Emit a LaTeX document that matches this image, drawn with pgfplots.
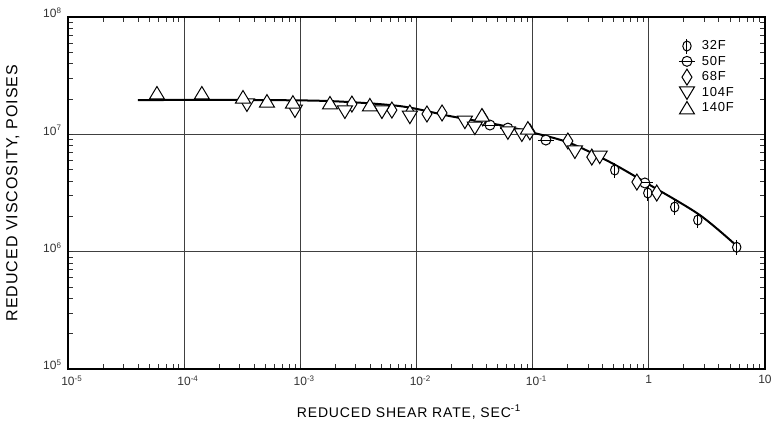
\documentclass[border=0pt]{standalone}
\usepackage{fontspec}
\setmainfont{Liberation Sans}
\newfontfamily\labfont[LetterSpace=6]{Liberation Sans}
\usepackage{pgfplots}
\pgfplotsset{compat=1.18}

\pgfdeclareplotmark{phi}{%
 \pgfpathellipse{\pgfpointorigin}{\pgfqpoint{4.2pt}{0pt}}{\pgfqpoint{0pt}{5pt}}\pgfusepathqfillstroke
 \pgfpathmoveto{\pgfqpoint{0pt}{-7.5pt}}\pgfpathlineto{\pgfqpoint{0pt}{7.5pt}}\pgfusepathqstroke}
\pgfdeclareplotmark{theta}{%
 \pgfpathcircle{\pgfpointorigin}{5pt}\pgfusepathqfillstroke
 \pgfpathmoveto{\pgfqpoint{-8pt}{0pt}}\pgfpathlineto{\pgfqpoint{8pt}{0pt}}\pgfusepathqstroke}
\pgfdeclareplotmark{dia}{%
 \pgfpathmoveto{\pgfqpoint{0pt}{8pt}}\pgfpathlineto{\pgfqpoint{5pt}{0pt}}\pgfpathlineto{\pgfqpoint{0pt}{-8pt}}\pgfpathlineto{\pgfqpoint{-5pt}{0pt}}\pgfpathclose\pgfusepathqfillstroke}
\pgfdeclareplotmark{tup}{%
 \pgfpathmoveto{\pgfqpoint{0pt}{6.5pt}}\pgfpathlineto{\pgfqpoint{7.5pt}{-6pt}}\pgfpathlineto{\pgfqpoint{-7.5pt}{-6pt}}\pgfpathclose\pgfusepathqfillstroke}
\pgfdeclareplotmark{tdown}{%
 \pgfpathmoveto{\pgfqpoint{0pt}{-6.5pt}}\pgfpathlineto{\pgfqpoint{7.5pt}{6pt}}\pgfpathlineto{\pgfqpoint{-7.5pt}{6pt}}\pgfpathclose\pgfusepathqfillstroke}

\begin{document}
\begin{tikzpicture}
\useasboundingbox (-68pt,-56pt) rectangle (704pt,369pt);
\begin{loglogaxis}[
  scale only axis,
  width=697pt, height=352pt,
  xmin=1e-5, xmax=10, ymin=1e5, ymax=1e8,
  xtick={1e-5,1e-4,1e-3,1e-2,1e-1,1,10},
  xticklabels={10\rlap{\textsuperscript{-5}},10\rlap{\textsuperscript{-4}},10\rlap{\textsuperscript{-3}},10\rlap{\textsuperscript{-2}},10\rlap{\textsuperscript{-1}},1,10},
  ytick={1e5,1e6,1e7,1e8},
  yticklabels={10\textsuperscript{5},10\textsuperscript{6},10\textsuperscript{7},10\textsuperscript{8}},
  tick label style={font=\fontsize{12}{14}\selectfont, black!80},
  xticklabel style={yshift=-3pt},
  yticklabel style={yshift=4pt, xshift=-3pt},
  major tick length=0pt,
  minor tick length=5pt,
  every minor tick/.style={black!80, line width=0.8pt},
  grid=major,
  major grid style={black!75, line width=0.9pt},
  axis line style={line width=1.6pt},
  xlabel={REDUCED SHEAR RATE, SEC\textsuperscript{-1}},
  ylabel={REDUCED VISCOSITY, POISES},
  xlabel style={font=\labfont\fontsize{14}{16}\selectfont, at={(axis description cs:0.489,0)}, yshift=-43pt, anchor=center},
  ylabel style={font=\labfont\fontsize{16}{18}\selectfont, at={(axis description cs:-0.079,0.5)}, anchor=center},
  legend style={draw=none, fill=none, at={(0.872,0.945)}, anchor=north west,
     font=\labfont\fontsize{13}{13}\selectfont, row sep=0.5pt,
     /tikz/every odd column/.append style={column sep=5pt}},
  legend cell align=left,
  every axis plot/.append style={line width=1pt},
]
% fitted curve
\addplot[black, line width=2pt, smooth, forget plot] coordinates {
 (4.0e-5,1.96e7) (3.68e-4,1.96e7) (1.80e-3,1.92e7) (7.2e-3,1.74e7)
 (1.94e-2,1.43e7) (5.22e-2,1.20e7) (0.102,1.03e7) (0.209,8.43e6)
 (0.461,5.81e6) (1.02,3.70e6) (2.75,2.05e6) (5.71,1.12e6)};
% 32F
\addplot[only marks, mark=phi, draw=black, fill=white] coordinates {
 (0.509,4.96e6) (0.98,3.16e6) (1.67,2.40e6) (2.64,1.86e6) (5.71,1.09e6)};
\addlegendentry{32F}
% 50F
\addplot[only marks, mark=theta, draw=black, fill=white] coordinates {
 (4.29e-2,1.20e7) (6.12e-2,1.13e7) (0.130,8.94e6) (0.925,3.85e6)};
\addlegendentry{50F}
% 68F
\addplot[only marks, mark=dia, draw=black, fill=white] coordinates {
 (2.78e-3,1.81e7) (6.14e-3,1.61e7) (8.77e-3,1.52e7) (1.23e-2,1.49e7)
 (1.66e-2,1.52e7) (3.72e-2,1.38e7) (9.46e-2,1.05e7) (0.201,8.77e6)
 (0.323,6.40e6) (0.789,3.92e6) (1.17,3.16e6)};
\addlegendentry{68F}
% 104F
\addplot[only marks, mark=tdown, draw=black, fill=white] coordinates {
 (3.47e-4,1.78e7) (8.99e-4,1.58e7) (2.42e-3,1.55e7) (5.04e-3,1.55e7)
 (8.77e-3,1.40e7) (2.61e-2,1.27e7) (3.18e-2,1.13e7) (6.12e-2,1.03e7)
 (8.07e-2,9.87e6) (0.231,7.07e6) (0.378,6.40e6)};
\addlegendentry{104F}
% 140F
\addplot[only marks, mark=tup, draw=black, fill=white] coordinates {
 (5.83e-5,2.25e7) (1.42e-4,2.25e7) (3.21e-4,2.08e7) (5.16e-4,1.92e7)
 (8.63e-4,1.88e7) (1.80e-3,1.85e7) (3.97e-3,1.78e7) (3.66e-2,1.46e7)
 (9.10e-2,1.13e7)};
\addlegendentry{140F}
\end{loglogaxis}
\end{tikzpicture}
\end{document}
